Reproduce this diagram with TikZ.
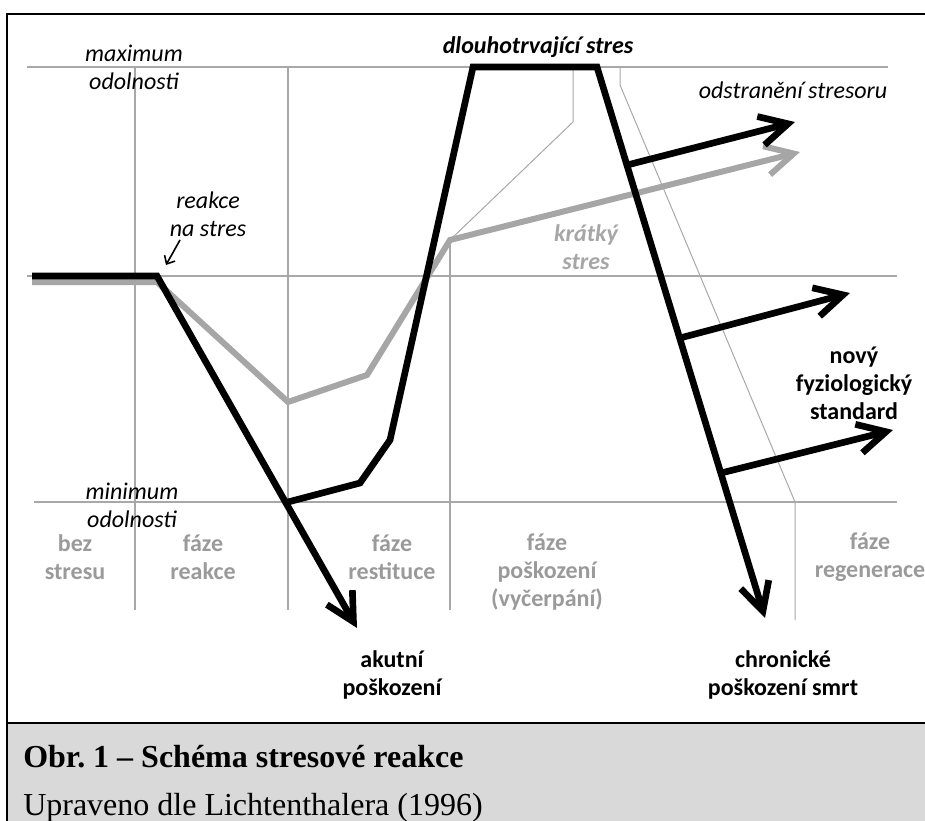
\documentclass[tikz,border=0pt]{standalone}
\usepackage{fontspec}
\setmainfont{Carlito}
\newfontfamily\captionfont{Liberation Serif}
\usetikzlibrary{arrows.meta,calc}
\definecolor{gridgray}{HTML}{A8A8A8}
\definecolor{curvegray}{HTML}{A6A6A6}
\definecolor{labelgray}{HTML}{9A9A9A}
\definecolor{captiongray}{HTML}{D9D9D9}
\begin{document}
\begin{tikzpicture}[x=0.75pt, y=-0.75pt,
        font=\fontsize{18}{21}\selectfont,
        gridline/.style={draw=gridgray, line width=1.5pt},
        guide/.style={draw=gridgray, line width=0.75pt},
        blackcurve/.style={draw=black, line width=5pt},
        graycurve/.style={draw=curvegray, line width=4.5pt},
        bigtip/.style={-{Straight Barb[length=21pt,width=22pt]}},
        ital/.style={font=\fontsize{18}{21}\selectfont\itshape, align=center},
        phase/.style={font=\fontsize{18}{21}\selectfont\bfseries, text=labelgray, align=center},
        outcome/.style={font=\fontsize{18}{21}\selectfont\bfseries, align=center}]
        \useasboundingbox (0,0) rectangle (925,821);

        % frame and caption
        \fill[captiongray] (7,723) rectangle (926,822);
        \draw[line width=1.5pt] (7,822) -- (7,14) -- (926,14);
        \draw[line width=1.5pt] (7,723) -- (926,723);
        \node (captitle) [anchor=base west, inner sep=0] at (23,767)
            {\captionfont\bfseries\fontsize{24}{28}\selectfont Obr.~1 – Schéma stresové reakce};
        \node (capsource) [anchor=base west, inner sep=0] at (23,815)
            {\captionfont\fontsize{24}{28}\selectfont Upraveno dle Lichtenthalera (1996)};

        % grid
        \draw[gridline] (27,67) -- (888,67);
        \draw[gridline] (27,276) -- (897,276);
        \draw[gridline] (34,502) -- (897,502);
        \draw[gridline] (135,67) -- (135,610);
        \draw[gridline] (288,67) -- (288,610);
        \draw[gridline] (450,240) -- (450,610);

        % curve points
        \coordinate (g0) at (32,282);
        \coordinate (g1) at (157,282);
        \coordinate (g2) at (288,402);
        \coordinate (g3) at (367,375);
        \coordinate (g4) at (450,240);
        \coordinate (gend) at (800,152);
        \coordinate (b0) at (32,276);
        \coordinate (b1) at (157,276);
        \coordinate (bakut) at (357,628);
        \coordinate (bmin) at (288,502);
        \coordinate (b2) at (360,483);
        \coordinate (b3) at (390,440);
        \coordinate (btopL) at (473,67);
        \coordinate (btopR) at (597,67);
        \coordinate (bchron) at (765,618);

        % guides
        \draw[guide] (573,67) -- (573,122) -- (g4);
        \draw[guide] (620,67) -- (620,85) -- (795,502) -- (795,620);

        % curves
        \draw[graycurve, bigtip] (g0) -- (g1) -- (g2) -- (g3) -- (g4) -- (gend);
        \draw[blackcurve, bigtip] (b0) -- (b1) -- (bakut);
        \draw[blackcurve, bigtip] (bmin) -- (b2) -- (b3) -- (btopL) -- (btopR) -- (bchron);

        % branches
        \coordinate (br1) at ($(btopR)!0.178!(bchron)$);
        \coordinate (br2) at ($(btopR)!0.492!(bchron)$);
        \coordinate (br3) at ($(btopR)!0.737!(bchron)$);
        \coordinate (br1end) at (795,122);
        \coordinate (br2end) at (850,293);
        \coordinate (br3end) at (893,430);
        \draw[blackcurve, bigtip] (br1) -- (br1end);
        \draw[blackcurve, bigtip] (br2) -- (br2end);
        \draw[blackcurve, bigtip] (br3) -- (br3end);

        % labels
        \node (maxlbl) [ital] at (134,67.5) {maximum\\odolnosti};
        \node (minlbl) [ital] at (132,505) {minimum\\odolnosti};
        \node (reaklbl) [ital] at (208,214) {reakce\\na stres};
        \coordinate (reaktip) at (166,265);
        \draw[line width=1.2pt, -{Straight Barb[length=5pt,width=9pt]}] (180,240) -- (reaktip);
        \node (longlbl) [ital, font=\fontsize{18}{21}\selectfont\bfseries\itshape] at (538,47) {dlouhotrvající stres};
        \node (removelbl) [ital] at (793,90) {odstranění stresoru};
        \node (shortlbl) [ital, font=\fontsize{18}{21}\selectfont\bfseries\itshape, text=curvegray] at (586,247.5) {krátký\\stres};
        \node (newlbl) [outcome] at (854,383) {nový\\fyziologický\\standard};
        \node (acutelbl) [outcome] at (392,675) {akutní\\poškození};
        \node (chronlbl) [outcome] at (783,675) {chronické\\poškození smrt};

        % phases
        \node (ph0) [phase] at (75,557.5) {bez\\stresu};
        \node (ph1) [phase] at (203,557.5) {fáze\\reakce};
        \node (ph2) [phase] at (392,557.5) {fáze\\restituce};
        \node (ph3) [phase] at (547,572.5) {fáze\\poškození\\(vyčerpání)};
        \node (ph4) [phase] at (870,557.5) {fáze\\regenerace};
    \end{tikzpicture}
\end{document}
